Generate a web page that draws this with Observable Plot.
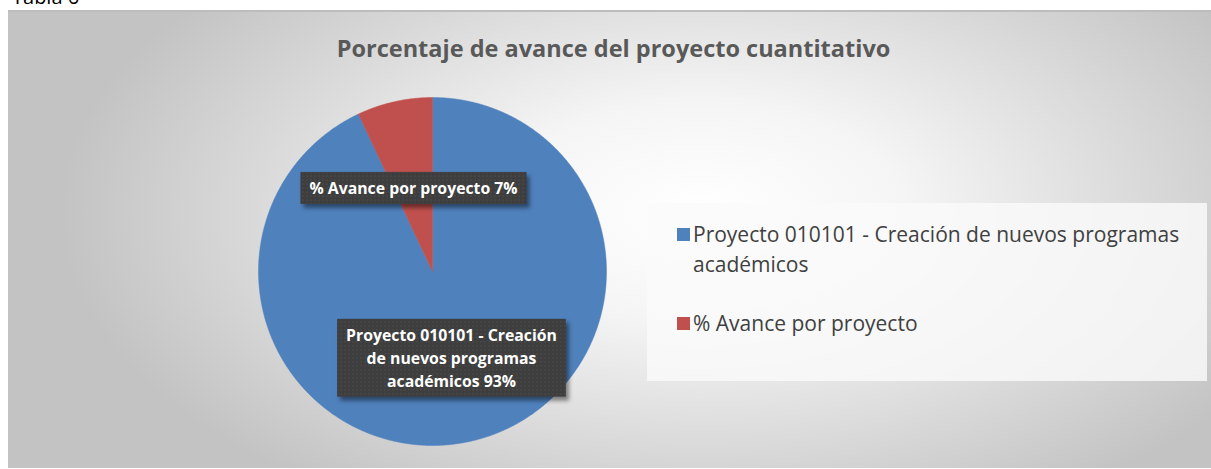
<!DOCTYPE html>
<html><head><meta charset="utf-8">
<script src="https://cdn.jsdelivr.net/npm/d3@7"></script>
<script src="https://cdn.jsdelivr.net/npm/@observablehq/plot@0.6"></script>
<style>
body{margin:0;width:1211px;height:469px;overflow:hidden;background:#fff;font-family:"Open Sans",sans-serif;position:relative}
#caption{position:absolute;left:12px;top:-13px;font-size:20px;line-height:20px;color:#000}
#frame{position:absolute;left:8px;top:10px;width:1203px;height:458px;box-sizing:border-box;border-top:2px solid #bdbdbd;
 background:radial-gradient(ellipse 640px 340px at 692px 200px,#ffffff 0%,#f5f5f5 32%,#c3c3c3 100%)}
#title{position:absolute;top:32px;left:12px;width:1203px;text-align:center;font-weight:bold;font-size:23.5px;line-height:32px;color:#595959}
#legend{position:absolute;left:647px;top:203px;width:560px;height:178px;background:rgba(250,250,250,0.82)}
#legend .sw{position:absolute;left:30px;width:13px;height:13px}
#legend .tx{position:absolute;left:46px;width:505px;font-size:21px;line-height:30px;color:#404040}
#chart{position:absolute;left:0;top:0}
</style></head>
<body>
<div id="caption">Tabla 6</div>
<div id="frame"></div>
<div id="title"></div>
<div id="legend"></div>
<div id="chart"></div>
<script>
const chartTitle = "Porcentaje de avance del proyecto cuantitativo";
const categories = ["Proyecto 010101 - Creación de nuevos programas académicos", "% Avance por proyecto"];
const values = [93, 7];
const colors = ["#4F81BD", "#C0504D"];
const dataLabels = ["Proyecto 010101 - Creación\nde nuevos programas\nacadémicos 93%", "% Avance por proyecto 7%"];

document.getElementById("title").textContent = chartTitle;

// legend
const legend = document.getElementById("legend");
const legendTops = [16, 105];
categories.forEach((c, i) => {
  const sw = document.createElement("div");
  sw.className = "sw"; sw.style.background = colors[i]; sw.style.top = (legendTops[i] + 9) + "px";
  const tx = document.createElement("div");
  tx.className = "tx"; tx.textContent = c; tx.style.top = legendTops[i] + "px";
  legend.appendChild(sw); legend.appendChild(tx);
});

// pie geometry in unit-circle data space
const arcs = d3.pie().sort(null).value(d => d)(values);
const poly = [];
arcs.forEach((a, i) => {
  const name = categories[i];
  poly.push({name, u: 0, v: 0});
  const n = Math.max(2, Math.ceil((a.endAngle - a.startAngle) / 0.005));
  for (let k = 0; k <= n; k++) {
    const t = a.startAngle + (a.endAngle - a.startAngle) * k / n;
    poly.push({name, u: Math.sin(t), v: Math.cos(t)});
  }
  poly.push({name, u: 0, v: 0});
});
const labelData = arcs.map((a, i) => {
  const m = (a.startAngle + a.endAngle) / 2;
  return {label: dataLabels[i], u: 0.5 * Math.sin(m), v: 0.5 * Math.cos(m)};
});

const W = 1211, H = 469, cx = 432, cy = 271, R = 174;
const plot = Plot.plot({
  width: W, height: H, margin: 0,
  style: {background: "transparent", overflow: "visible"},
  x: {domain: [-cx / R, (W - cx) / R], axis: null},
  y: {domain: [(cy - H) / R, cy / R], axis: null},
  color: {domain: categories, range: colors},
  marks: [
    Plot.line(poly, {x: "u", y: "v", z: "name", fill: "name", stroke: "name", strokeWidth: 0.5, curve: "linear"}),
    Plot.text(labelData, {x: "u", y: "v", text: "label", fill: "white", fontWeight: "bold",
      fontSize: 15.8, lineHeight: 1.45, fontFamily: "Open Sans", textAnchor: "middle"})
  ]
});
document.getElementById("chart").appendChild(plot);

// boxes behind data labels
const svg = d3.select(plot);
const defs = svg.insert("defs", ":first-child");
const pat = defs.append("pattern").attr("id", "dots").attr("width", 4).attr("height", 4).attr("patternUnits", "userSpaceOnUse");
pat.append("rect").attr("width", 4).attr("height", 4).attr("fill", "#3e3e3e");
pat.append("rect").attr("x", 1).attr("y", 1).attr("width", 1).attr("height", 1).attr("fill", "#5a5a5a");
const flt = defs.append("filter").attr("id", "sh").attr("x", "-20%").attr("y", "-20%").attr("width", "140%").attr("height", "160%");
flt.append("feGaussianBlur").attr("stdDeviation", 2);
svg.selectAll('g[aria-label="text"] text').each(function() {
  const b = this.getBBox();
  const px = 9, py = 5;
  const parent = this.parentNode;
  const sh = document.createElementNS("http://www.w3.org/2000/svg", "rect");
  const bx = document.createElementNS("http://www.w3.org/2000/svg", "rect");
  const t = this.getAttribute("transform") || "";
  [sh, bx].forEach(r => {
    r.setAttribute("x", b.x - px); r.setAttribute("y", b.y - py);
    r.setAttribute("width", b.width + 2 * px); r.setAttribute("height", b.height + 2 * py);
    r.setAttribute("transform", t);
  });
  sh.setAttribute("fill", "rgba(0,0,0,0.45)");
  sh.setAttribute("filter", "url(#sh)");
  sh.setAttribute("transform", t + " translate(3,4)");
  bx.setAttribute("fill", "url(#dots)");
  parent.insertBefore(sh, this);
  parent.insertBefore(bx, this);
});
</script>
</body></html>
